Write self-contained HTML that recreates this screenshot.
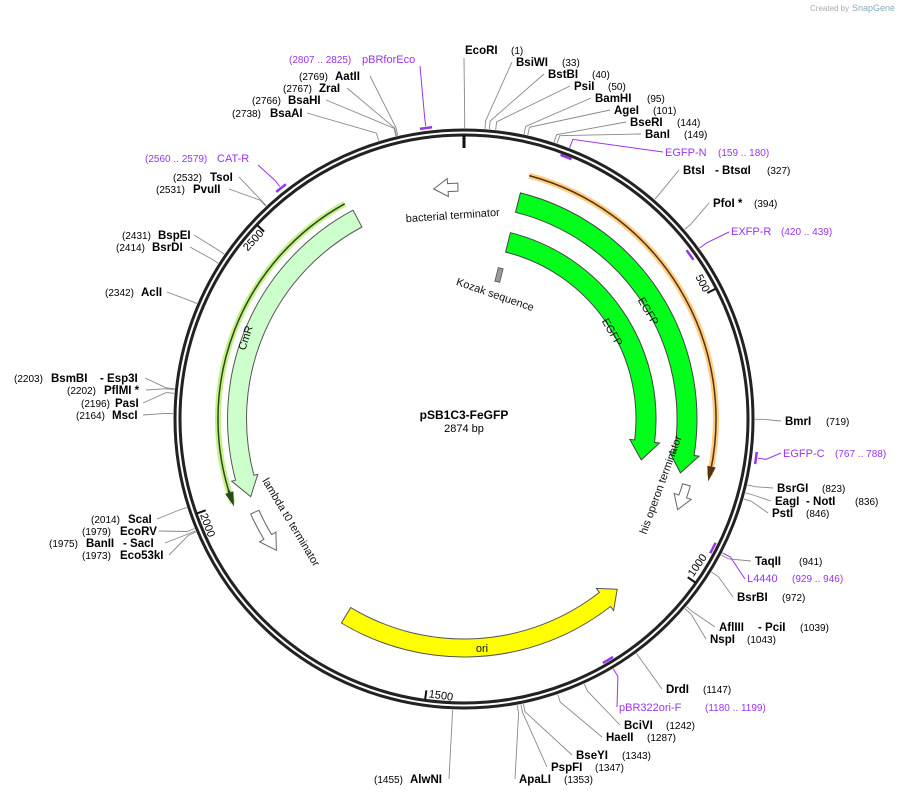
<!DOCTYPE html>
<html><head><meta charset="utf-8">
<style>
html,body{margin:0;padding:0;background:#fff;}
svg{display:block;font-family:"Liberation Sans","DejaVu Sans",sans-serif;}
.n{font-weight:bold;font-size:11.5px;fill:#000;}
.p{font-size:10px;fill:#000;}
.pn{font-size:11px;fill:#9933ee;}
.pp{font-size:10px;fill:#9933ee;}
.f{font-size:11px;fill:#111;}
</style></head><body>
<svg id="s" width="908" height="796" viewBox="0 0 908 796" xmlns="http://www.w3.org/2000/svg">
<text x="810" y="11" font-size="8" fill="#aaa">Created by</text>
<text x="852" y="11" font-size="9" fill="#8ab">SnapGene</text>
<g id="g"></g>
<text x="464" y="419" text-anchor="middle" font-weight="bold" font-size="12">pSB1C3-FeGFP</text>
<text x="464" y="432" text-anchor="middle" font-size="11">2874 bp</text>
</svg>
<script>
var cx=464,cy=419,NS="http://www.w3.org/2000/svg",g=document.getElementById('g');
function P(a,r){var t=a*Math.PI/180;return [cx+r*Math.sin(t),cy-r*Math.cos(t)];}
function A(bp){return bp/2874*360;}
function el(n,at,txt){var e=document.createElementNS(NS,n);for(var k in at)e.setAttribute(k,at[k]);if(txt!=null)e.textContent=txt;g.appendChild(e);return e;}
function pt(p){return p[0].toFixed(1)+' '+p[1].toFixed(1);}
function arc(a1,a2,r){var sw=a2>a1?1:0,lg=Math.abs(a2-a1)>180?1:0;return 'M'+pt(P(a1,r))+' A'+r+' '+r+' 0 '+lg+' '+sw+' '+pt(P(a2,r));}
function arrow(a1,a2,rc,w,h,ex,fill,stroke,sw){
 var d=a2>a1?1:-1,ab=a2-d*h,ro=rc+w/2,ri=rc-w/2,s=d>0?1:0,s2=1-s,lg=Math.abs(ab-a1)>180?1:0;
 var p='M'+pt(P(a1,ro))+' A'+ro+' '+ro+' 0 '+lg+' '+s+' '+pt(P(ab,ro))+' L'+pt(P(ab,ro+ex))+' L'+pt(P(a2,rc))+' L'+pt(P(ab,ri-ex))+' L'+pt(P(ab,ri))+' A'+ri+' '+ri+' 0 '+lg+' '+s2+' '+pt(P(a1,ri))+' Z';
 el('path',{d:p,fill:fill,stroke:stroke,'stroke-width':sw||1,'stroke-linejoin':'miter'});}
var L=[
[1,'R',465,54,[['EcoRI','n'],['(1)','p',511]]],
[33,'R',516,66,[['BsiWI','n'],['(33)','p',562]]],
[40,'R',548,78,[['BstBI','n'],['(40)','p',592]]],
[50,'R',574,90,[['PsiI','n'],['(50)','p',608]]],
[95,'R',595,102,[['BamHI','n'],['(95)','p',647]]],
[101,'R',614,114,[['AgeI','n'],['(101)','p',653]]],
[144,'R',630,126,[['BseRI','n'],['(144)','p',677]]],
[149,'R',645,138,[['BanI','n'],['(149)','p',684]]],
[327,'R',683,174,[['BtsI','n'],['- BtsαI','n',715],['(327)','p',767]]],
[394,'R',713,207,[['PfoI *','n'],['(394)','p',754]]],
[719,'R',785,425,[['BmrI','n'],['(719)','p',826]]],
[823,'R',777,492,[['BsrGI','n'],['(823)','p',822]]],
[836,'R',775,505,[['EagI','n'],['- NotI','n',806],['(836)','p',855]]],
[846,'R',772,517,[['PstI','n'],['(846)','p',806]]],
[941,'R',755,565,[['TaqII','n'],['(941)','p',799]]],
[972,'R',737,601,[['BsrBI','n'],['(972)','p',782]]],
[1039,'R',719,631,[['AflIII','n'],['- PciI','n',758],['(1039)','p',800]]],
[1043,'R',710,643,[['NspI','n'],['(1043)','p',747]]],
[1147,'R',666,693,[['DrdI','n'],['(1147)','p',703]]],
[1242,'R',624,729,[['BciVI','n'],['(1242)','p',666]]],
[1287,'R',606,741,[['HaeII','n'],['(1287)','p',647]]],
[1343,'R',576,759,[['BseYI','n'],['(1343)','p',622]]],
[1347,'R',551,771,[['PspFI','n'],['(1347)','p',595]]],
[1353,'R',519,783,[['ApaLI','n'],['(1353)','p',564]]],
[1455,'L',445,783,[['(1455)','p',374],['AlwNI','n',410]]],
[1973,'L',165,559,[['(1973)','p',82],['Eco53kI','n',120]]],
[1975,'L',161,547,[['(1975)','p',49],['BanII','n',86],['- SacI','n',123]]],
[1979,'L',155,535,[['(1979)','p',82],['EcoRV','n',120]]],
[2014,'L',153,523,[['(2014)','p',91],['ScaI','n',128]]],
[2164,'L',139,419,[['(2164)','p',76],['MscI','n',112]]],
[2196,'L',139,407,[['(2196)','p',81],['PasI','n',115]]],
[2202,'L',142,394,[['(2202)','p',67],['PflMI *','n',104]]],
[2203,'L',141,382,[['(2203)','p',14],['BsmBI','n',51],['- Esp3I','n',100]]],
[2342,'L',163,296,[['(2342)','p',105],['AclI','n',141]]],
[2414,'L',186,251,[['(2414)','p',116],['BsrDI','n',152]]],
[2431,'L',190,239,[['(2431)','p',122],['BspEI','n',158]]],
[2531,'L',225,193,[['(2531)','p',156],['PvuII','n',193]]],
[2532,'L',235,181,[['(2532)','p',173],['TsoI','n',210]]],
[2738,'L',303,117,[['(2738)','p',232],['BsaAI','n',270]]],
[2766,'L',322,104,[['(2766)','p',252],['BsaHI','n',288]]],
[2767,'L',343,92,[['(2767)','p',283],['ZraI','n',319]]],
[2769,'L',366,80,[['(2769)','p',299],['AatII','n',335]]]
];
L.forEach(function(o){var a=A(o[0]),p1=P(a,291),p2=P(a,299);
 var ex=o[1]=='R'?o[2]-4:o[2]+4,ey=o[3]-4;
 if(o[0]==1){ex=464;ey=58;}
 el('polyline',{points:pt(p1)+' '+pt(p2)+' '+ex+' '+ey,fill:'none',stroke:'#888','stroke-width':0.9});
 o[4].forEach(function(t,i){var x=(i==0&&o[1]=='R')?o[2]:t[2];el('text',{x:x,y:o[3],'class':t[1]},t[0]);});
});
var PR=[
[566,157,663,152,'EGFP-N',665,'(159 .. 180)',718,156],
[690,255,729,232,'EXFP-R',731,'(420 .. 439)',781,235],
[756,458,781,453,'EGFP-C',783,'(767 .. 788)',835,457],
[713,548,745,579,'L4440',747,'(929 .. 946)',792,582],
[608,660,617,707,'pBR322ori-F',619,'(1180 .. 1199)',705,711],
[426,128,420,66,'pBRforEco',362,'(2807 .. 2825)',289,63],
[281,188,258,165,'CAT-R',217,'(2560 .. 2579)',145,162]
];
PR.forEach(function(o){var dx=o[0]-cx,dy=o[1]-cy,r=Math.sqrt(dx*dx+dy*dy),a=Math.atan2(dx,-dy)*180/Math.PI;
 el('path',{d:arc(a-1.2,a+1.2,r),stroke:'#9933ee','stroke-width':2.5,fill:'none'});
 var q=P(a,r>286?r+2:291),q2=P(a,r>286?r+10:300);
 el('polyline',{points:pt(q)+' '+pt(q2)+' '+o[2]+' '+o[3],fill:'none',stroke:'#9933ee','stroke-width':1});
 el('text',{x:o[5],y:o[8],'class':'pn'},o[4]);el('text',{x:o[7],y:o[8],'class':'pp'},o[6]);
});
el('circle',{cx:cx,cy:cy,r:289,fill:'none',stroke:'#222','stroke-width':3});
el('circle',{cx:cx,cy:cy,r:284,fill:'none',stroke:'#222','stroke-width':3});
el('line',{x1:464,y1:135,x2:464,y2:148,stroke:'#111','stroke-width':3});
[[500,703,283,62.6],[1000,697,565,-55],[1500,441,695,8],[2000,208,525,70],[2500,253,240,-47]].forEach(function(t){var a=A(t[0]);
 var p1=P(a,283),p2=P(a,274);el('line',{x1:p1[0],y1:p1[1],x2:p2[0],y2:p2[1],stroke:'#111','stroke-width':2});
 el('text',{x:0,y:0,'font-size':11,'text-anchor':'middle',transform:'translate('+t[1]+','+t[2]+') rotate('+t[3]+') translate(0,4)'},String(t[0]));
});
el('path',{d:arc(15,103,252),stroke:'#ffcc80','stroke-width':6,fill:'none'});
el('path',{d:arc(15,102,252),stroke:'#553311','stroke-width':1.5,fill:'none'});
arrow(101,104,252,1.5,3,3,'#553311','#553311',0.8);
el('path',{d:arc(331,250,246),stroke:'#c6f08a','stroke-width':6,fill:'none'});
el('path',{d:arc(331,251,246),stroke:'#2a4a1a','stroke-width':1.5,fill:'none'});
arrow(253,249.5,246,1.5,3,3,'#2a4a1a','#2a4a1a',0.8);
arrow(14,104,223,20,5,5,'#00ff1a','#444',1);
arrow(14,103,182,20,6,5,'#00ff1a','#444',1);
arrow(332,250,227,19,5,4,'#ccffcc','#555',1);
arrow(211,138,229,18,4,5,'#ffff00','#555',1);
arrow(-1.5,-7.5,232,8,3.5,5,'#fff','#666',1);
arrow(106.5,113,232,8,3.5,5,'#fff','#666',1);
arrow(246,235,229,9,4,5,'#fff','#666',1);
el('rect',{x:-2.5,y:-7,width:5,height:14,fill:'#999',stroke:'#555','stroke-width':0.8,transform:'translate(499,275) rotate(14)'});
function ft(t,x,y,r){el('text',{x:0,y:0,'class':'f','text-anchor':'middle',transform:'translate('+x+','+y+') rotate('+r+')'},t);}
ft('bacterial terminator',453,219,-4);
ft('Kozak sequence',494,298,19);
ft('EGFP',645,313,60);
ft('EGFP',609,334,60);
ft('his operon terminator',664,486,-70);
ft('lambda t0 terminator',288,524,59);
ft('CmR',249,339,-72);
ft('ori',482,652,0);
</script>
</body></html>
